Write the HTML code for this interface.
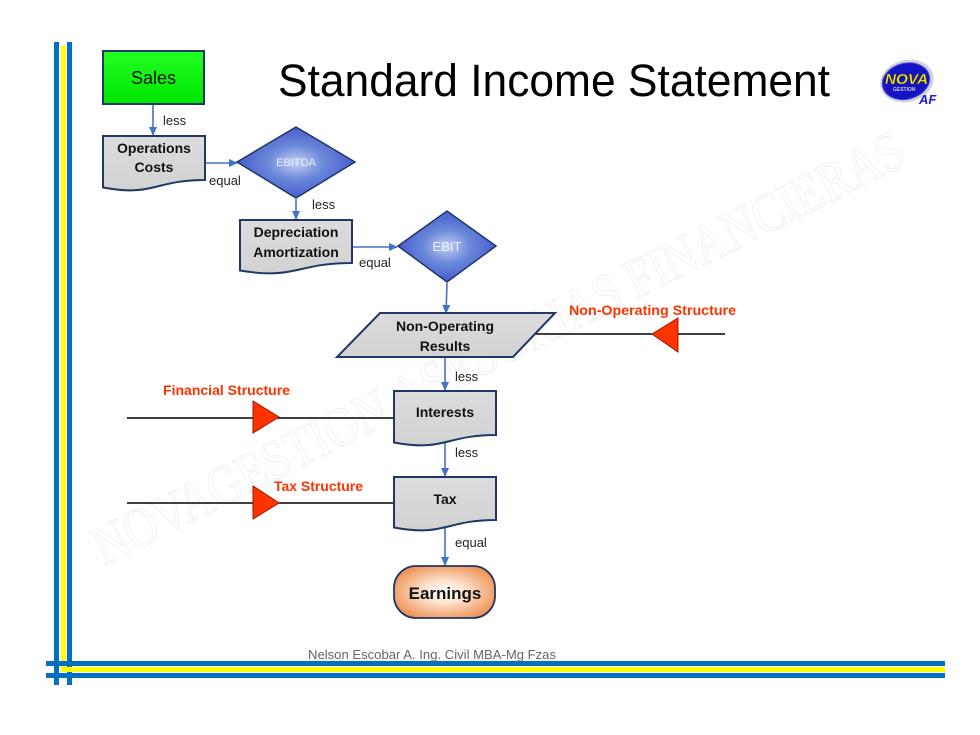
<!DOCTYPE html>
<html>
<head>
<meta charset="utf-8">
<style>
html,body{margin:0;padding:0;background:#fff;}
svg{display:block;}
.lbl{font-family:"Liberation Sans",sans-serif;font-size:13px;fill:#222;}
.bx{font-family:"Liberation Sans",sans-serif;font-size:14px;font-weight:bold;fill:#111;}
.red{font-family:"Liberation Sans",sans-serif;font-size:14px;font-weight:bold;fill:#ff3300;}
</style>
</head>
<body>
<svg width="980" height="735" viewBox="0 0 980 735" xmlns="http://www.w3.org/2000/svg">
<defs>
  <linearGradient id="green" x1="0" y1="0" x2="0" y2="1">
    <stop offset="0" stop-color="#22ff22"/>
    <stop offset="1" stop-color="#00e600"/>
  </linearGradient>
  <linearGradient id="gray" x1="0" y1="0" x2="0" y2="1">
    <stop offset="0" stop-color="#dcdcdc"/>
    <stop offset="1" stop-color="#d2d2d2"/>
  </linearGradient>
  <radialGradient id="dia" cx="0.5" cy="0.5" r="0.6">
    <stop offset="0" stop-color="#c3cff4"/>
    <stop offset="0.4" stop-color="#6a89da"/>
    <stop offset="0.8" stop-color="#4a5fcf"/>
    <stop offset="1" stop-color="#5a30cc"/>
  </radialGradient>
  <radialGradient id="earn" cx="0.5" cy="0.5" r="0.6">
    <stop offset="0" stop-color="#ffffff"/>
    <stop offset="0.35" stop-color="#fde3d0"/>
    <stop offset="1" stop-color="#ee8a48"/>
  </radialGradient>
  <marker id="ah" markerWidth="9" markerHeight="9" refX="8" refY="4.5" orient="auto" markerUnits="userSpaceOnUse">
    <path d="M0,0.5 L9,4.5 L0,8.5 Z" fill="#4472c4"/>
  </marker>
</defs>

<!-- watermark -->
<text x="104" y="566" transform="rotate(-26.6 104 566)" font-family="'Liberation Serif',serif" font-size="56" fill="none" stroke="#e6e6e6" stroke-width="0.6" textLength="900" lengthAdjust="spacingAndGlyphs">NOVAGESTION ASESORIAS FINANCIERAS</text>

<!-- frame bars -->
<rect x="54" y="42" width="5" height="643" fill="#0070c0"/>
<rect x="67" y="42" width="5" height="643" fill="#0070c0"/>
<rect x="61" y="46" width="5" height="626" fill="#ffff00"/>
<rect x="46" y="661" width="899" height="5" fill="#0070c0"/>
<rect x="61" y="667" width="884" height="5" fill="#ffff00"/>
<rect x="46" y="673" width="899" height="5" fill="#0070c0"/>

<!-- title -->
<text x="278" y="96" font-family="'Liberation Sans',sans-serif" font-size="45" fill="#000" textLength="552" lengthAdjust="spacingAndGlyphs">Standard Income Statement</text>

<!-- logo -->
<g transform="translate(907,81) rotate(-14)">
  <ellipse cx="0" cy="0" rx="27" ry="21" fill="#d4d4d4"/>
  <ellipse cx="-1" cy="0" rx="24" ry="18" fill="#1414c4" stroke="#5050e0" stroke-width="1"/>
</g>
<text x="885" y="84" font-family="'Liberation Sans',sans-serif" font-size="15" font-weight="bold" font-style="italic" fill="#ffee00" stroke="#333" stroke-width="0.4" textLength="43" lengthAdjust="spacingAndGlyphs">NOVA</text>
<text x="893" y="91" font-family="'Liberation Sans',sans-serif" font-size="5" font-weight="bold" fill="#cfcfcf">GESTION</text>
<text x="919" y="104" font-family="'Liberation Sans',sans-serif" font-size="13" font-weight="bold" font-style="italic" fill="#1a1ae0">AF</text>

<!-- Sales -->
<rect x="103" y="51" width="101" height="53" fill="url(#green)" stroke="#1f3864" stroke-width="2"/>
<text x="153.5" y="84" text-anchor="middle" font-family="'Liberation Sans',sans-serif" font-size="18" fill="#111">Sales</text>

<!-- arrows -->
<g stroke="#4472c4" stroke-width="1.6" fill="none" marker-end="url(#ah)">
  <line x1="153" y1="105" x2="153" y2="135"/>
  <line x1="206" y1="163" x2="237" y2="163"/>
  <line x1="296" y1="199" x2="296" y2="219"/>
  <line x1="353" y1="247" x2="397" y2="247"/>
  <line x1="447" y1="283" x2="446" y2="313"/>
  <line x1="445" y1="358" x2="445" y2="390"/>
  <line x1="445" y1="443" x2="445" y2="476"/>
  <line x1="445" y1="528" x2="445" y2="565"/>
</g>

<!-- Operations Costs -->
<path d="M103,136 H205 V180 C154,180 154,197 103,187.5 Z" fill="url(#gray)" stroke="#1f3864" stroke-width="2"/>
<text class="bx" x="154" y="153" text-anchor="middle">Operations</text>
<text class="bx" x="154" y="172" text-anchor="middle">Costs</text>

<!-- EBITDA -->
<path d="M237,162 L296,127 L355,162 L296,198 Z" fill="url(#dia)" stroke="#1f3864" stroke-width="1.5"/>
<text x="296" y="166" text-anchor="middle" font-family="'Liberation Sans',sans-serif" font-size="11" fill="#e8ecff">EBITDA</text>

<!-- Depreciation -->
<path d="M240,220 H352 V263 C296,263 296,280 240,270.5 Z" fill="url(#gray)" stroke="#1f3864" stroke-width="2"/>
<text class="bx" x="296" y="237" text-anchor="middle">Depreciation</text>
<text class="bx" x="296" y="257" text-anchor="middle">Amortization</text>

<!-- EBIT -->
<path d="M398,246 L447,211 L496,246 L447,282 Z" fill="url(#dia)" stroke="#1f3864" stroke-width="1.5"/>
<text x="447" y="251" text-anchor="middle" font-family="'Liberation Sans',sans-serif" font-size="13" fill="#eef1ff">EBIT</text>

<!-- Non-Operating Results -->
<line x1="535" y1="334" x2="725" y2="334" stroke="#000" stroke-width="1.6"/>
<path d="M380,313 H555 L513,357 H337 Z" fill="url(#gray)" stroke="#1f3864" stroke-width="2"/>
<text class="bx" x="445" y="331" text-anchor="middle">Non-Operating</text>
<text class="bx" x="445" y="351" text-anchor="middle">Results</text>
<path d="M652,334 L678,318 L678,352 Z" fill="#ff3300" stroke="#a01800" stroke-width="1"/>
<text class="red" x="569" y="315" textLength="167" lengthAdjust="spacingAndGlyphs">Non-Operating Structure</text>

<!-- Financial structure -->
<line x1="127" y1="418" x2="394" y2="418" stroke="#000" stroke-width="1.6"/>
<path d="M253,401 L279,417 L253,433 Z" fill="#ff3300" stroke="#a01800" stroke-width="1"/>
<text class="red" x="163" y="395" textLength="127" lengthAdjust="spacingAndGlyphs">Financial Structure</text>

<!-- Interests -->
<path d="M394,391 H496 V435 C445,435 445,452 394,442.5 Z" fill="url(#gray)" stroke="#1f3864" stroke-width="2"/>
<text class="bx" x="445" y="417" text-anchor="middle">Interests</text>

<!-- Tax structure -->
<line x1="127" y1="503" x2="394" y2="503" stroke="#000" stroke-width="1.6"/>
<path d="M253,486 L279,503 L253,519 Z" fill="#ff3300" stroke="#a01800" stroke-width="1"/>
<text class="red" x="274" y="491" textLength="89" lengthAdjust="spacingAndGlyphs">Tax Structure</text>

<!-- Tax -->
<path d="M394,477 H496 V520 C445,520 445,537 394,527.5 Z" fill="url(#gray)" stroke="#1f3864" stroke-width="2"/>
<text class="bx" x="445" y="504" text-anchor="middle">Tax</text>

<!-- Earnings -->
<rect x="394" y="566" width="101" height="52" rx="22" ry="22" fill="url(#earn)" stroke="#1f3864" stroke-width="1.8"/>
<text x="445" y="599" text-anchor="middle" font-family="'Liberation Sans',sans-serif" font-size="17" font-weight="bold" fill="#111">Earnings</text>

<!-- connector labels -->
<text class="lbl" x="163" y="125">less</text>
<text class="lbl" x="209" y="185">equal</text>
<text class="lbl" x="312" y="209">less</text>
<text class="lbl" x="359" y="267">equal</text>
<text class="lbl" x="455" y="381">less</text>
<text class="lbl" x="455" y="457">less</text>
<text class="lbl" x="455" y="547">equal</text>

<!-- footer -->
<text x="308" y="659" font-family="'Liberation Sans',sans-serif" font-size="13" fill="#666" textLength="248" lengthAdjust="spacingAndGlyphs">Nelson Escobar A. Ing. Civil MBA-Mg Fzas</text>
</svg>
</body>
</html>
